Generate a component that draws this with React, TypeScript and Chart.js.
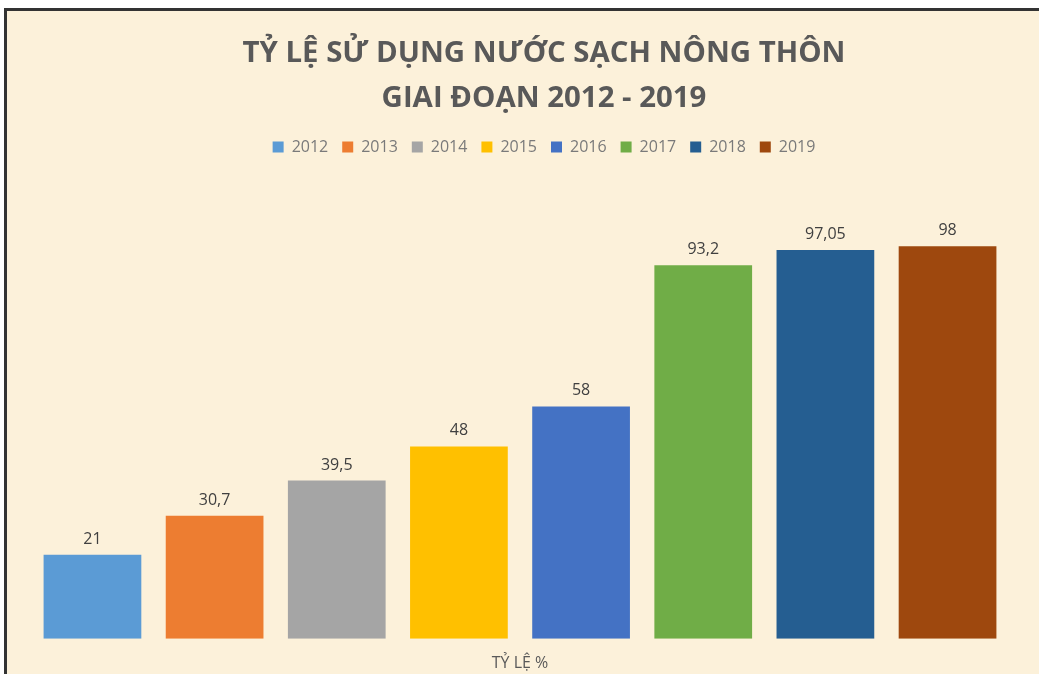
import React, { useEffect, useRef } from "react";
import { Chart, registerables } from "chart.js";

Chart.register(...registerables);

const categories = ["TỶ LỆ %"];
const years = ["2012", "2013", "2014", "2015", "2016", "2017", "2018", "2019"];
const values = [21, 30.7, 39.5, 48, 58, 93.2, 97.05, 98];
const colors = ["#5B9BD5", "#ED7D31", "#A5A5A5", "#FFC000", "#4472C4", "#70AD47", "#255E91", "#9E480E"];
const titleLines = ["TỶ LỆ SỬ DỤNG NƯỚC SẠCH NÔNG THÔN", "GIAI ĐOẠN 2012 - 2019"];

const fmt = (v: number) => String(v).replace(".", ",");

const valueLabels = {
  id: "valueLabels",
  afterDatasetsDraw(chart: any) {
    const ctx = chart.ctx;
    ctx.save();
    ctx.font = '16px "Open Sans"';
    ctx.fillStyle = "#404040";
    ctx.textAlign = "center";
    ctx.textBaseline = "alphabetic";
    chart.data.datasets.forEach((ds: any, i: number) => {
      const meta = chart.getDatasetMeta(i);
      meta.data.forEach((el: any, j: number) => {
        ctx.fillText(fmt(ds.data[j]), el.x, el.y - 11);
      });
    });
    ctx.restore();
  },
};

export default function App() {
  const ref = useRef<HTMLCanvasElement>(null);
  useEffect(() => {
    if (!ref.current) return;
    const chart = new Chart(ref.current, {
      type: "bar",
      data: {
        labels: categories,
        datasets: years.map((y, i) => ({
          label: y,
          data: [values[i]],
          backgroundColor: colors[i],
          borderWidth: 0,
        })),
      },
      options: {
        responsive: false,
        animation: false,
        layout: { padding: { left: 9, right: 9, top: 0, bottom: 10 } },
        datasets: { bar: { categoryPercentage: 0.9695, barPercentage: 0.8 } },
        plugins: {
          title: {
            display: true,
            fullSize: true,
            text: titleLines,
            color: "#595959",
            font: { family: "Open Sans", size: 29.4, weight: "bold", lineHeight: 45 / 29.4 },
            padding: { top: 20.5, bottom: 3.5 },
          },
          legend: {
            display: true,
            position: "top",
            fullSize: true,
            align: "center",
            labels: {
              color: "#7a7a7a",
              font: { family: "Open Sans", size: 16 },
              boxWidth: 11,
              boxHeight: 11,
              padding: 14,
            },
          },
          tooltip: { enabled: false },
        },
        scales: {
          x: {
            grid: { display: false, drawTicks: false },
            border: { display: false },
            ticks: { color: "#595959", font: { family: "Open Sans", size: 16 }, padding: 15 },
          },
          y: {
            position: "right",
            min: 0,
            max: 118.25,
            grid: { display: false, drawTicks: false },
            border: { display: false },
            ticks: { display: false },
            afterFit: (s: any) => {
              s.width = 48;
            },
          },
        },
      },
      plugins: [valueLabels],
    });
    return () => chart.destroy();
  }, []);

  return (
    <div style={{ position: "fixed", inset: 0, overflow: "hidden", background: "#ffffff" }}>
      <div
        style={{
          position: "absolute",
          left: 4,
          top: 8,
          width: 1074,
          height: 700,
          borderLeft: "3px solid #333333",
          borderTop: "3px solid #333333",
          background: "#fcf1da",
        }}
      >
        <canvas ref={ref} width={1074} height={687} style={{ display: "block" }} />
      </div>
    </div>
  );
}
